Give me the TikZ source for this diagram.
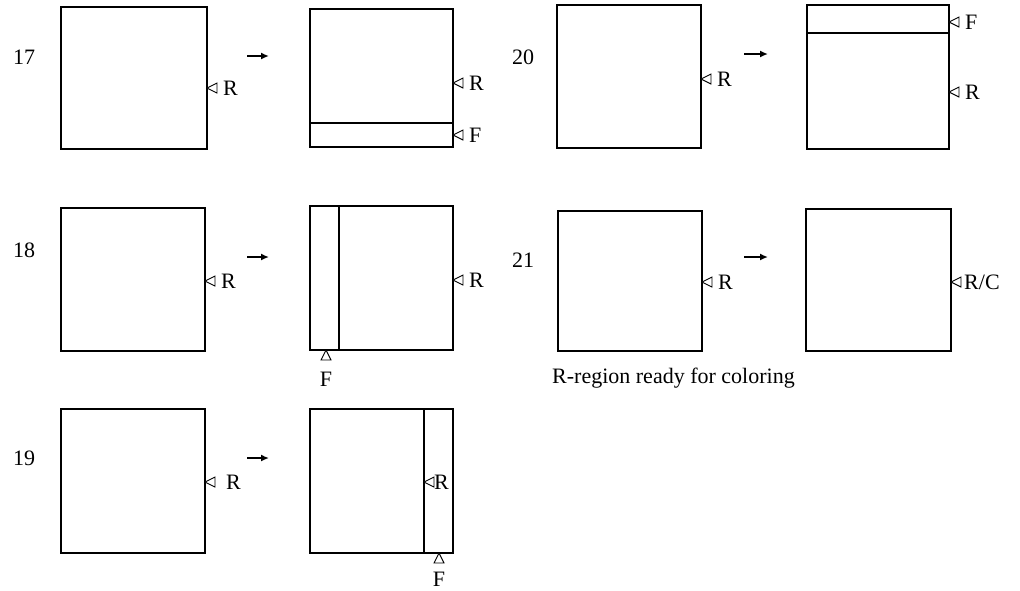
\documentclass[tikz,border=0pt]{standalone}
\usepackage{fontspec}
\setmainfont{Liberation Serif}
\usetikzlibrary{arrows.meta}
\begin{document}
\begin{tikzpicture}[x=1pt,y=-1pt,
  box/.style={draw,line width=1.3pt,inner sep=0pt,outer sep=0pt,anchor=north west},
  divider/.style={line width=1.2pt},
  tri/.style={draw,line width=0.9pt,fill=white,line join=miter},
  lbl/.style={inner sep=0pt,font=\fontsize{22}{26}\selectfont},
  stepnum/.style={inner sep=0pt,anchor=west,font=\fontsize{22}{26}\selectfont},
  goarrow/.style={line width=1.7pt,-{Latex[length=8pt,width=7pt]}}]
\useasboundingbox (0,0) rectangle (1020,590);
\newcommand\lmark[1]{\draw[tri] (#1) -- ++(10,-5) -- ++(0,10) -- cycle;}
\newcommand\umark[1]{\draw[tri] (#1) -- ++(-5,10) -- ++(10,0) -- cycle;}

% ---------- 17 ----------
\node[stepnum] (n17) at (13,57) {17};
\node[box,minimum width=146,minimum height=142] (b17a) at (61,7) {};
\coordinate (m17a) at (b17a.east |- 0,88);
\lmark{m17a}
\node[lbl,anchor=west] (r17a) at ([xshift=16]m17a) {R};
\coordinate (a17s) at (247,56); \coordinate (a17e) at (269,56);
\draw[goarrow] (a17s) -- (a17e);
\node[box,minimum width=143,minimum height=138] (b17b) at (310,9) {};
\coordinate (s17) at (b17b.west |- 0,123);
\draw[divider] (s17) -- (s17 -| b17b.east);
\coordinate (m17b) at (b17b.east |- 0,83);
\lmark{m17b}
\node[lbl,anchor=west] (r17b) at ([xshift=16]m17b) {R};
\coordinate (f17b) at (b17b.east |- 0,135);
\lmark{f17b}
\node[lbl,anchor=west] (ff17b) at ([xshift=16]f17b) {F};

% ---------- 18 ----------
\node[stepnum] (n18) at (13,250) {18};
\node[box,minimum width=144,minimum height=143] (b18a) at (61,208) {};
\coordinate (m18a) at (b18a.east |- 0,281);
\lmark{m18a}
\node[lbl,anchor=west] (r18a) at ([xshift=16]m18a) {R};
\coordinate (a18s) at (247,257); \coordinate (a18e) at (269,257);
\draw[goarrow] (a18s) -- (a18e);
\node[box,minimum width=143,minimum height=144] (b18b) at (310,206) {};
\coordinate (s18) at (339,0);
\draw[divider] (s18 |- b18b.north) -- (s18 |- b18b.south);
\coordinate (m18b) at (b18b.east |- 0,280);
\lmark{m18b}
\node[lbl,anchor=west] (r18b) at ([xshift=16]m18b) {R};
\coordinate (f18b) at (326,350);
\umark{f18b}
\node[lbl] (ff18b) at (326,379) {F};

% ---------- 19 ----------
\node[stepnum] (n19) at (13,458) {19};
\node[box,minimum width=144,minimum height=144] (b19a) at (61,409) {};
\coordinate (m19a) at (b19a.east |- 0,482);
\lmark{m19a}
\node[lbl,anchor=west] (r19a) at ([xshift=21]m19a) {R};
\coordinate (a19s) at (247,458); \coordinate (a19e) at (269,458);
\draw[goarrow] (a19s) -- (a19e);
\node[box,minimum width=143,minimum height=144] (b19b) at (310,409) {};
\coordinate (s19) at (424,0);
\draw[divider] (s19 |- b19b.north) -- (s19 |- b19b.south);
\coordinate (m19b) at (424,482);
\lmark{m19b}
\node[lbl,anchor=west] (r19b) at ([xshift=10]m19b) {R};
\coordinate (f19b) at (439,553);
\umark{f19b}
\node[lbl] (ff19b) at (439,579) {F};

% ---------- 20 ----------
\node[stepnum] (n20) at (512,57) {20};
\node[box,minimum width=144,minimum height=143] (b20a) at (557,5) {};
\coordinate (m20a) at (b20a.east |- 0,79);
\lmark{m20a}
\node[lbl,anchor=west] (r20a) at ([xshift=16]m20a) {R};
\coordinate (a20s) at (744,54); \coordinate (a20e) at (768,54);
\draw[goarrow] (a20s) -- (a20e);
\node[box,minimum width=142,minimum height=144] (b20b) at (807,5) {};
\coordinate (s20) at (b20b.west |- 0,33);
\draw[divider] (s20) -- (s20 -| b20b.east);
\coordinate (f20b) at (b20b.east |- 0,22);
\lmark{f20b}
\node[lbl,anchor=west] (ff20b) at ([xshift=16]f20b) {F};
\coordinate (m20b) at (b20b.east |- 0,92);
\lmark{m20b}
\node[lbl,anchor=west] (r20b) at ([xshift=16]m20b) {R};

% ---------- 21 ----------
\node[stepnum] (n21) at (512,260) {21};
\node[box,minimum width=144,minimum height=140] (b21a) at (558,211) {};
\coordinate (m21a) at (b21a.east |- 0,282);
\lmark{m21a}
\node[lbl,anchor=west] (r21a) at ([xshift=16]m21a) {R};
\coordinate (a21s) at (744,257); \coordinate (a21e) at (768,257);
\draw[goarrow] (a21s) -- (a21e);
\node[box,minimum width=145,minimum height=142] (b21b) at (806,209) {};
\coordinate (m21b) at (b21b.east |- 0,282);
\lmark{m21b}
\node[lbl,anchor=west] (r21b) at ([xshift=13]m21b) {R/C};
\node[lbl,anchor=west] (cap21) at (552,378) {R-region ready for coloring};
\end{tikzpicture}
\end{document}
